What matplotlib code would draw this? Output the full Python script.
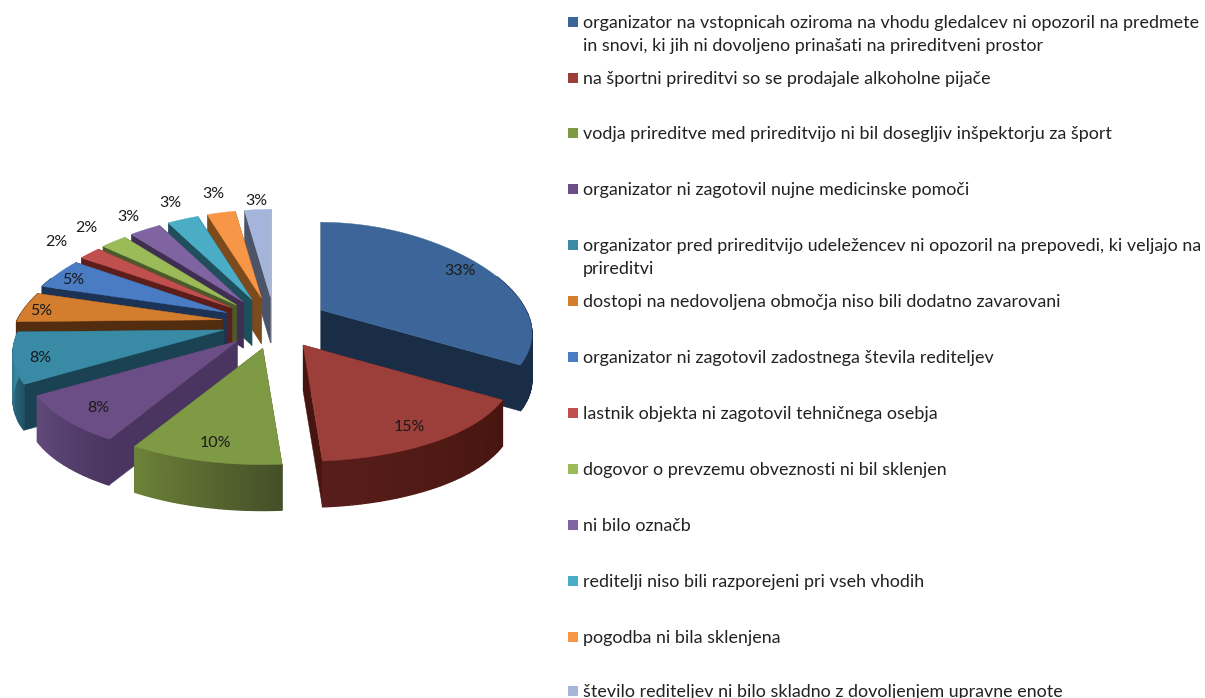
import numpy as np
import matplotlib
matplotlib.use("Agg")
import matplotlib.pyplot as plt
from matplotlib.patches import Polygon, Rectangle
from matplotlib.colors import to_rgb

# shares, labels round them
values = [33.4, 15.4, 9.8, 8.1, 8.0, 4.6, 4.6, 2.0, 2.4, 3.0, 3.1, 2.9, 2.7]

labels = [
    "organizator na vstopnicah oziroma na vhodu gledalcev ni opozoril na predmete\nin snovi, ki jih ni dovoljeno prinašati na prireditveni prostor",
    "na športni prireditvi so se prodajale alkoholne pijače",
    "vodja prireditve med prireditvijo ni bil dosegljiv inšpektorju za šport",
    "organizator ni zagotovil nujne medicinske pomoči",
    "organizator pred prireditvijo udeležencev ni opozoril na prepovedi, ki veljajo na\nprireditvi",
    "dostopi na nedovoljena območja niso bili dodatno zavarovani",
    "organizator ni zagotovil zadostnega števila rediteljev",
    "lastnik objekta ni zagotovil tehničnega osebja",
    "dogovor o prevzemu obveznosti ni bil sklenjen",
    "ni bilo označb",
    "reditelji niso bili razporejeni pri vseh vhodih",
    "pogodba ni bila sklenjena",
    "število rediteljev ni bilo skladno z dovoljenjem upravne enote",
]

top_colors = ["#3c6699", "#9c3e3a", "#7f9a45", "#6b4e85", "#388aa5", "#d37d2e", "#4a7cc3",
              "#c0504d", "#9bbb59", "#8064a2", "#4bacc6", "#f79646", "#a5b5d9"]
cut_colors = ["#1a2d46", "#47150f", "#454f29", "#4a3560", "#1a4252", "#532d10", "#1d3355",
              "#5d1d1b", "#4b5a2a", "#3f2f52", "#1f4f5c", "#7d4a1c", "#4b5468"]
wall_left = ["#1a2d46", "#581d1a", "#6c8238", "#614a7a", "#3b87a0", "#532d10", "#1d3355",
             "#5d1d1b", "#4b5a2a", "#3f2f52", "#1f4f5c", "#7d4a1c", "#4b5468"]
wall_right = ["#1a2d46", "#47150f", "#454f29", "#4a3560", "#1f5466", "#532d10", "#1d3355",
              "#5d1d1b", "#4b5a2a", "#3f2f52", "#1f4f5c", "#7d4a1c", "#4b5468"]

# legend text baseline centres, in pixels
legend_y = [22, 78, 133, 189, 245, 301, 357, 413, 469, 525, 581, 637, 691]
label_r = [0.88, 0.83, 0.83, 0.83, 0.88, 0.92, 0.9, 1.3, 1.3, 1.25, 1.3, 1.32, 1.17]

# pie projection settings (pixels)
cx, cy = 275, 323
ex, ey = 53, 26
a, b = 205, 102
kx, ky = 0.25, 0.14
depth = 46


def project(theta, r, ox, oy):
    # angle is clockwise from 12 o'clock, back of the pie is squeezed
    X = r * np.sin(theta)
    Y = r * np.cos(theta)
    return ox + a * X * (1 - kx * Y), oy - b * Y * (1 - ky * Y)


fig = plt.figure(figsize=(12.05, 6.98), dpi=100)
ax = fig.add_axes([0, 0, 1, 1])
ax.set_xlim(0, 1205)
ax.set_ylim(698, 0)
ax.axis("off")

edges = np.radians(np.concatenate([[0], np.cumsum(values)]) * 3.6)
mids = (edges[:-1] + edges[1:]) / 2

# painter's order, back slices first
order = np.argsort(-np.cos(mids))

for n, i in enumerate(order):
    t0, t1 = edges[i], edges[i + 1]
    tm = mids[i]
    ox = cx + ex * np.sin(tm)
    oy = cy - ey * np.cos(tm)
    base = n * 10 + 2

    # cut faces
    for t in (t0, t1):
        px, py = project(t, 1, ox, oy)
        ax.add_patch(Polygon([(ox, oy), (px, py), (px, py + depth), (ox, oy + depth)],
                             fc=cut_colors[i], ec=cut_colors[i], lw=0.3, zorder=base))

    # outer wall with a simple left to right shade
    ts = np.linspace(t0, t1, max(int((t1 - t0) * 60), 4))
    xs, ys = project(ts, 1, ox, oy)
    c0 = np.array(to_rgb(wall_left[i]))
    c1 = np.array(to_rgb(wall_right[i]))
    for j in range(len(ts) - 1):
        if np.cos((ts[j] + ts[j + 1]) / 2) > 0.35:
            continue
        f = 1 - j / (len(ts) - 2)
        col = c0 * (1 - f) + c1 * f
        ax.add_patch(Polygon([(xs[j], ys[j]), (xs[j + 1], ys[j + 1]),
                              (xs[j + 1], ys[j + 1] + depth), (xs[j], ys[j] + depth)],
                             fc=col, ec=col, lw=0.9, zorder=base + 1))

    # top face
    ax.add_patch(Polygon(np.column_stack([np.r_[ox, xs], np.r_[oy, ys]]),
                         fc=top_colors[i], ec=top_colors[i], lw=0.3, zorder=base + 2))

    lx, ly = project(tm, label_r[i], ox, oy)
    ax.text(lx, ly + 3, f"{values[i]:.0f}%", ha="center", va="center", fontsize=11.5,
            family="Lato", color="#1a1a1a", zorder=500)

for i, lab in enumerate(labels):
    ax.add_patch(Rectangle((568, legend_y[i] - 5), 10, 10, fc=top_colors[i], ec="none"))
    ax.text(583, legend_y[i] - 7, lab, ha="left", va="top", fontsize=12.85, family="Lato",
            color="#222222", linespacing=1.52)

fig.savefig("out.png", dpi=100, facecolor="white")
